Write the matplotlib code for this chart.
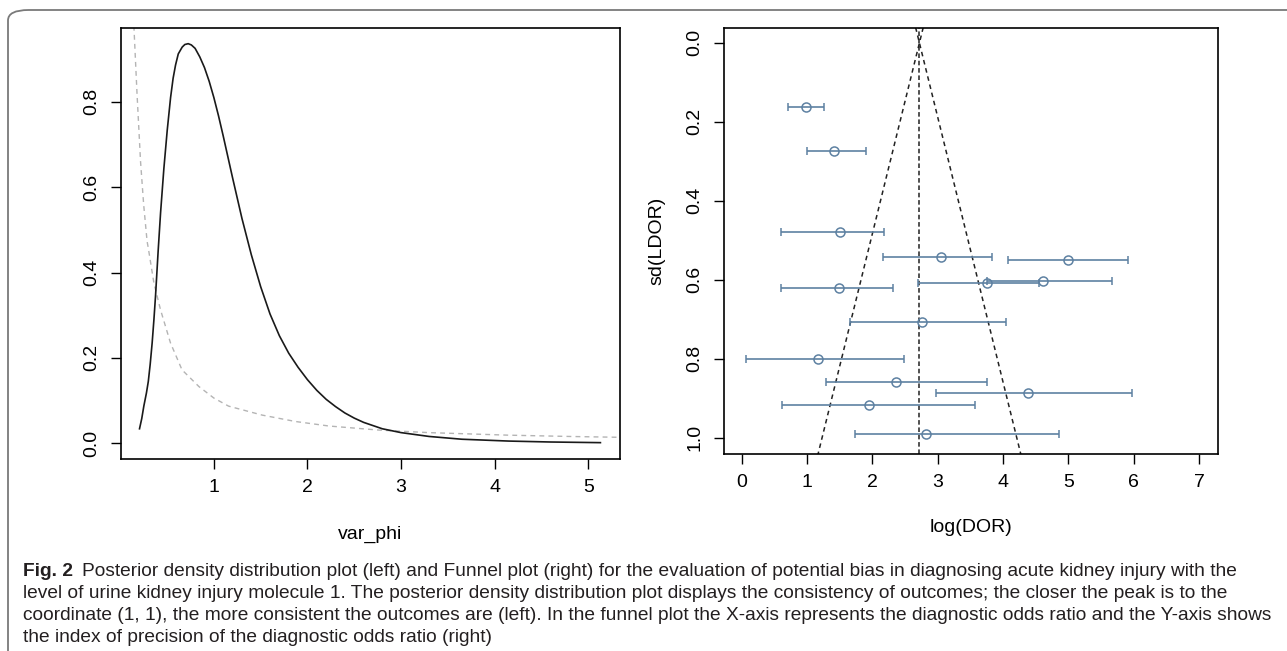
import numpy as np
import matplotlib
matplotlib.use("Agg")
import matplotlib.pyplot as plt
from matplotlib import font_manager
from matplotlib.patches import FancyBboxPatch

plt.rcParams['font.family'] = ['Liberation Sans', 'DejaVu Sans']

# posterior density of var_phi (solid black)
post_x = [0.206, 0.23, 0.252, 0.28, 0.30, 0.32, 0.341, 0.36, 0.377, 0.405, 0.431, 0.466, 0.502, 0.538,
          0.565, 0.591, 0.62, 0.662, 0.69, 0.726, 0.76, 0.80, 0.85, 0.90, 0.95, 1.0, 1.05, 1.1, 1.15,
          1.2, 1.3, 1.4, 1.5, 1.6, 1.7, 1.8, 1.9, 2.0, 2.1, 2.2, 2.3, 2.4, 2.5, 2.6, 2.8, 3.0, 3.3,
          3.65, 4.15, 4.6, 5.13]
post_y = [0.034, 0.058, 0.087, 0.118, 0.145, 0.185, 0.235, 0.29, 0.345, 0.45, 0.54, 0.643, 0.733, 0.81,
          0.855, 0.886, 0.912, 0.928, 0.934, 0.936, 0.933, 0.925, 0.905, 0.88, 0.848, 0.81, 0.767,
          0.72, 0.671, 0.622, 0.527, 0.442, 0.367, 0.303, 0.252, 0.211, 0.178, 0.149, 0.124, 0.103,
          0.086, 0.071, 0.059, 0.049, 0.034, 0.025, 0.016, 0.0095, 0.0052, 0.003, 0.0015]

# prior density (grey dashed)
prior_x = [0.14, 0.147, 0.18, 0.217, 0.25, 0.287, 0.30, 0.36, 0.43, 0.537, 0.66, 0.84, 1.0, 1.158,
           1.517, 1.873, 2.228, 2.76, 3.295, 4.15, 4.8, 5.34]
prior_y = [1.02, 0.972, 0.816, 0.66, 0.56, 0.473, 0.457, 0.375, 0.313, 0.235, 0.172, 0.133, 0.106,
           0.087, 0.066, 0.051, 0.0405, 0.031, 0.025, 0.019, 0.016, 0.014]

# funnel plot: study log(DOR), sd(LDOR) and interval ends
ldor = np.array([0.98, 1.42, 1.50, 3.05, 4.99, 4.61, 3.75, 1.49, 2.76, 1.16, 2.36, 4.38, 1.95, 2.82])
sd_ldor = np.array([0.162, 0.273, 0.478, 0.543, 0.549, 0.602, 0.607, 0.622, 0.708, 0.80, 0.860,
                    0.887, 0.917, 0.99])
ci_low = np.array([0.71, 1.00, 0.60, 2.17, 4.07, 3.76, 2.70, 0.60, 1.65, 0.07, 1.29, 2.98, 0.61, 1.73])
ci_high = np.array([1.26, 1.90, 2.18, 3.83, 5.92, 5.67, 4.55, 2.32, 4.04, 2.48, 3.75, 5.98, 3.57, 4.85])
pooled = 2.72
funnel_slope = 1.49

caption = [
    "Posterior density distribution plot (left) and Funnel plot (right) for the evaluation of potential bias in diagnosing acute kidney injury with the",
    "level of urine kidney injury molecule 1. The posterior density distribution plot displays the consistency of outcomes; the closer the peak is to the",
    "coordinate (1, 1), the more consistent the outcomes are (left). In the funnel plot the X-axis represents the diagnostic odds ratio and the Y-axis shows",
    "the index of precision of the diagnostic odds ratio (right)",
]
caption_ends = [1268, 1262, 1277, None]   # right end of each line in the reference (px)

W, H = 1287, 651
fig = plt.figure(figsize=(W / 100, H / 100), dpi=100)


def ax_rect(x0, y0, x1, y1):
    return [x0 / W, 1 - y1 / H, (x1 - x0) / W, (y1 - y0) / H]


def style_axes(ax):
    for s in ax.spines.values():
        s.set_linewidth(1.2)
    ax.tick_params(length=7.5, width=1.0, labelsize=14, pad=7)
    ax.tick_params(axis='y', labelrotation=90)
    for lab in ax.get_yticklabels():
        lab.set_va('center')


# left: posterior density
ax1 = fig.add_axes(ax_rect(120.7, 28.3, 619.6, 459))
ax1.plot(prior_x, prior_y, color='#b4b4b4', lw=1.0, dashes=(3.5, 3))
ax1.plot(post_x, post_y, color='#1a1a1a', lw=1.2)
ax1.set_xlim(0.005, 5.335)
ax1.set_ylim(-0.0368, 0.972)
ax1.set_xticks([1, 2, 3, 4, 5])
ax1.set_yticks([0.0, 0.2, 0.4, 0.6, 0.8])
ax1.set_yticklabels(["0.0", "0.2", "0.4", "0.6", "0.8"])
style_axes(ax1)
ax1.set_xlabel("var_phi", fontsize=14)
ax1.xaxis.set_label_coords(0.5, -0.155)

# right: funnel plot
ax2 = fig.add_axes(ax_rect(723.5, 28.3, 1217.7, 453.5))
sd_line = np.array([-0.06, 1.06])
ax2.plot(pooled - funnel_slope * sd_line, sd_line, color='#222222', lw=1.1, dashes=(3, 2.5))
ax2.plot(pooled + funnel_slope * sd_line, sd_line, color='#222222', lw=1.1, dashes=(3, 2.5))
ax2.axvline(pooled, color='#222222', lw=1.1, dashes=(3, 1.8))
ax2.errorbar(ldor, sd_ldor, xerr=[ldor - ci_low, ci_high - ldor], fmt='o', color='#5e81a2',
             mfc='none', ms=6.5, mew=1.1, elinewidth=1.2, capsize=3.2, capthick=1.2)
ax2.set_xlim(-0.279, 7.286)
ax2.set_ylim(1.04, -0.037)
ax2.set_xticks(range(8))
ax2.set_yticks([0.0, 0.2, 0.4, 0.6, 0.8, 1.0])
ax2.set_yticklabels(["0.0", "0.2", "0.4", "0.6", "0.8", "1.0"])
style_axes(ax2)
ax2.set_xlabel("log(DOR)", fontsize=14)
ax2.xaxis.set_label_coords(0.5, -0.153)
ax2.set_ylabel("sd(LDOR)", fontsize=14)
ax2.yaxis.set_label_coords(-0.118, 0.5)

# rounded frame around figure + caption
frame = FancyBboxPatch((8 / W, -0.1), 1.2, 1.1 - 10 / H, transform=fig.transFigure,
                       boxstyle="round,pad=0,rounding_size=0.016", fill=False,
                       edgecolor='#7a7a7a', lw=1.3, clip_on=False)
fig.patches.append(frame)

names = {f.name for f in font_manager.fontManager.ttflist}
cap_font = 'Liberation Sans Narrow' if 'Liberation Sans Narrow' in names else 'Liberation Sans'
cap_color = '#231f20'
x_left = 23
line_y = [572, 594, 616, 637]
gap = 8

renderer = fig.canvas.get_renderer()
size = 12.0
texts = []
t_fig = fig.text(x_left / W, 1 - line_y[0] / H, "Fig. 2", fontsize=size, weight='bold',
                 family=cap_font, color=cap_color, va='center')
for i, (line, y) in enumerate(zip(caption, line_y)):
    texts.append(fig.text(x_left / W, 1 - y / H, line, fontsize=size, family=cap_font,
                          color=cap_color, va='center'))

# one font size for all lines: the largest that keeps each line inside its reference width
w_fig = t_fig.get_window_extent(renderer).width
scales = []
for i, end in enumerate(caption_ends):
    if end is None:
        continue
    w = texts[i].get_window_extent(renderer).width
    if i == 0:
        w += w_fig + gap
    scales.append((end - x_left) / w)
scale = min(scales)
size = size * scale
t_fig.set_fontsize(size)
for t in texts:
    t.set_fontsize(size)
w_fig = t_fig.get_window_extent(renderer).width
texts[0].set_x((x_left + w_fig + gap * scale) / W)

fig.savefig("out.png", dpi=100)
